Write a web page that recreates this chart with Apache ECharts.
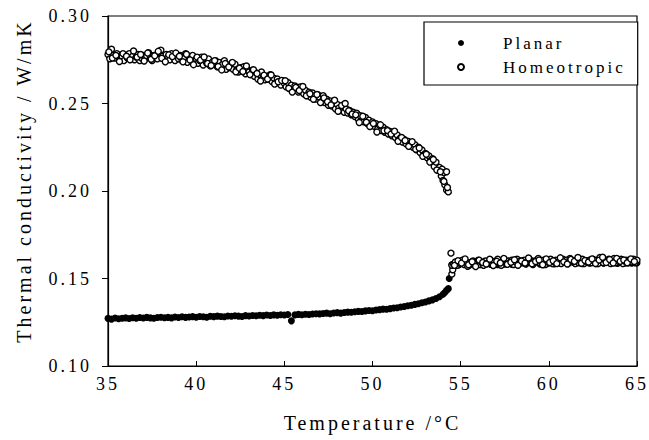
<!DOCTYPE html>
<html>
<head>
<meta charset="utf-8">
<script src="https://cdn.jsdelivr.net/npm/echarts@6/dist/echarts.min.js"></script>
<style>
html,body{margin:0;padding:0;background:#fff;}
#chart{width:649px;height:440px;}
#chart text{letter-spacing:3px;}
</style>
</head>
<body>
<div id="chart"></div>
<script>
// ---- Data ----
const seriesNames = ["Planar", "Homeotropic"];
const xTicks = [35, 40, 45, 50, 55, 60, 65];
const yTicks = [0.10, 0.15, 0.20, 0.25, 0.30];

// Homeotropic (open circles), first run
const homeoTemp = [
35.0,35.1,35.2,35.3,35.4,35.5,35.6,35.7,35.8,35.9,
36.0,36.1,36.2,36.3,36.4,36.5,36.6,36.7,36.8,36.9,
37.0,37.1,37.2,37.3,37.4,37.5,37.6,37.7,37.8,37.9,
38.0,38.1,38.2,38.3,38.4,38.5,38.6,38.7,38.8,38.9,
39.0,39.1,39.2,39.3,39.4,39.5,39.6,39.7,39.8,39.9,
40.0,40.1,40.2,40.3,40.4,40.5,40.6,40.7,40.8,40.9,
41.0,41.1,41.2,41.3,41.4,41.5,41.6,41.7,41.8,41.9,
42.0,42.1,42.2,42.3,42.4,42.5,42.6,42.7,42.8,42.9,
43.0,43.1,43.2,43.3,43.4,43.5,43.6,43.7,43.8,43.9,
44.0,44.1,44.2,44.3,44.4,44.5,44.6,44.7,44.8,44.9,
45.0,45.1,45.2,45.3,45.4,45.5,45.6,45.7,45.8,45.9,
46.0,46.1,46.2,46.3,46.4,46.5,46.6,46.7,46.8,46.9,
47.0,47.1,47.2,47.3,47.4,47.5,47.6,47.7,47.8,47.9,
48.0,48.1,48.2,48.3,48.4,48.5,48.6,48.7,48.8,48.9,
49.0,49.1,49.2,49.3,49.4,49.5,49.6,49.7,49.8,49.9,
50.0,50.1,50.2,50.3,50.4,50.5,50.6,50.7,50.8,50.9,
51.0,51.1,51.2,51.3,51.4,51.5,51.6,51.7,51.8,51.9,
52.0,52.1,52.2,52.3,52.4,52.5,52.6,52.7,52.8,52.9,
53.0,53.1,53.2,53.3,53.4,53.5,53.6,53.7,53.8,53.9,
54.0,54.1,54.2,54.3,
53.95,54.05,54.2,54.45,54.5,54.55,54.5,
54.6,54.7,54.8,54.9,55.0,55.1,55.2,55.3,55.4,55.5,
55.6,55.7,55.8,55.9,56.0,56.1,56.2,56.3,56.4,56.5,
56.6,56.7,56.8,56.9,57.0,57.1,57.2,57.3,57.4,57.5,
57.6,57.7,57.8,57.9,58.0,58.1,58.2,58.3,58.4,58.5,
58.6,58.7,58.8,58.9,59.0,59.1,59.2,59.3,59.4,59.5,
59.6,59.7,59.8,59.9,60.0,60.1,60.2,60.3,60.4,60.5,
60.6,60.7,60.8,60.9,61.0,61.1,61.2,61.3,61.4,61.5,
61.6,61.7,61.8,61.9,62.0,62.1,62.2,62.3,62.4,62.5,
62.6,62.7,62.8,62.9,63.0,63.1,63.2,63.3,63.4,63.5,
63.6,63.7,63.8,63.9,64.0,64.1,64.2,64.3,64.4,64.5,
64.6,64.7,64.8,64.9,65.0
];
const homeoCond = [
0.2780,0.2755,0.2810,0.2775,0.2760,0.2785,0.2765,0.2750,0.2770,0.2745,
0.2775,0.2760,0.2785,0.2755,0.2770,0.2750,0.2765,0.2780,0.2745,0.2760,
0.2775,0.2755,0.2770,0.2790,0.2760,0.2745,0.2775,0.2765,0.2755,0.2790,
0.2805,0.2770,0.2755,0.2780,0.2765,0.2750,0.2785,0.2765,0.2745,0.2770,
0.2755,0.2775,0.2745,0.2760,0.2785,0.2735,0.2760,0.2750,0.2775,0.2740,
0.2755,0.2730,0.2745,0.2765,0.2720,0.2745,0.2730,0.2755,0.2715,0.2735,
0.2725,0.2745,0.2710,0.2735,0.2705,0.2725,0.2745,0.2695,0.2720,0.2705,
0.2715,0.2695,0.2725,0.2690,0.2680,0.2705,0.2685,0.2710,0.2670,0.2695,
0.2680,0.2665,0.2690,0.2655,0.2675,0.2640,0.2665,0.2680,0.2650,0.2635,
0.2655,0.2640,0.2665,0.2625,0.2645,0.2615,0.2640,0.2625,0.2605,0.2630,
0.2615,0.2595,0.2620,0.2585,0.2605,0.2575,0.2600,0.2585,0.2565,0.2595,
0.2580,0.2555,0.2575,0.2545,0.2565,0.2535,0.2560,0.2545,0.2525,0.2550,
0.2535,0.2510,0.2545,0.2505,0.2525,0.2490,0.2515,0.2485,0.2505,0.2470,
0.2495,0.2475,0.2460,0.2485,0.2450,0.2470,0.2445,0.2460,0.2435,0.2450,
0.2425,0.2445,0.2410,0.2430,0.2405,0.2395,0.2420,0.2385,0.2405,0.2375,
0.2395,0.2370,0.2385,0.2355,0.2375,0.2345,0.2365,0.2335,0.2350,0.2325,
0.2340,0.2315,0.2330,0.2305,0.2320,0.2295,0.2305,0.2280,0.2295,0.2270,
0.2285,0.2260,0.2275,0.2250,0.2265,0.2235,0.2250,0.2220,0.2235,0.2205,
0.2215,0.2190,0.2200,0.2175,0.2185,0.2140,0.2165,0.2120,0.2135,0.2085,
0.2060,0.2035,0.2005,0.1995,
0.2125,0.2105,0.2110,0.1645,0.1525,0.1550,0.1575,
0.1580,0.1595,0.1575,0.1590,0.1585,0.1605,0.1580,0.1595,0.1570,0.1590,
0.1585,0.1600,0.1575,0.1595,0.1605,0.1580,0.1590,0.1575,0.1600,0.1585,
0.1590,0.1605,0.1580,0.1595,0.1585,0.1610,0.1590,0.1575,0.1600,0.1595,
0.1585,0.1600,0.1590,0.1605,0.1580,0.1595,0.1610,0.1585,0.1600,0.1590,
0.1605,0.1585,0.1595,0.1610,0.1590,0.1580,0.1600,0.1595,0.1615,0.1590,
0.1595,0.1605,0.1580,0.1600,0.1590,0.1610,0.1585,0.1595,0.1605,0.1590,
0.1600,0.1585,0.1610,0.1595,0.1605,0.1590,0.1615,0.1595,0.1600,0.1585,
0.1605,0.1590,0.1595,0.1610,0.1585,0.1600,0.1595,0.1605,0.1590,0.1610,
0.1595,0.1605,0.1585,0.1620,0.1600,0.1590,0.1605,0.1595,0.1610,0.1585,
0.1600,0.1615,0.1590,0.1605,0.1595,0.1610,0.1585,0.1600,0.1605,0.1590,
0.1605,0.1595,0.1610,0.1590,0.1605
];

// Homeotropic, second run (interleaved temperatures)
const homeoTemp2 = [
35.05,35.25,35.45,35.65,35.85,36.05,36.25,36.45,36.65,36.85,
37.05,37.25,37.45,37.65,37.85,38.05,38.25,38.45,38.65,38.85,
39.05,39.25,39.45,39.65,39.85,40.05,40.25,40.45,40.65,40.85,
41.05,41.25,41.45,41.65,41.85,42.05,42.25,42.45,42.65,42.85,
43.05,43.25,43.45,43.65,43.85,44.05,44.25,44.45,44.65,44.85,
45.05,45.25,45.45,45.65,45.85,46.05,46.25,46.45,46.65,46.85,
47.05,47.25,47.45,47.65,47.85,48.05,48.25,48.45,48.65,48.85,
49.05,49.25,49.45,49.65,49.85,50.05,50.25,50.45,50.65,50.85,
51.05,51.25,51.45,51.65,51.85,52.05,52.25,52.45,52.65,52.85,
53.05,53.25,53.45,53.65,53.85,54.05,54.25,
54.65,54.85,55.05,55.25,55.45,55.65,55.85,56.05,56.25,56.45,
56.65,56.85,57.05,57.25,57.45,57.65,57.85,58.05,58.25,58.45,
58.65,58.85,59.05,59.25,59.45,59.65,59.85,60.05,60.25,60.45,
60.65,60.85,61.05,61.25,61.45,61.65,61.85,62.05,62.25,62.45,
62.65,62.85,63.05,63.25,63.45,63.65,63.85,64.05,64.25,64.45,
64.65,64.85
];
const homeoCond2 = [
0.2795,0.2760,0.2775,0.2740,0.2785,0.2770,0.2750,0.2800,0.2765,0.2780,
0.2743,0.2788,0.2753,0.2773,0.2798,0.2758,0.2738,0.2778,0.2768,0.2788,
0.2770,0.2738,0.2781,0.2749,0.2722,0.2765,0.2748,0.2766,0.2729,0.2717,
0.2745,0.2711,0.2692,0.2728,0.2709,0.2735,0.2681,0.2702,0.2683,0.2714,
0.2665,0.2693,0.2671,0.2629,0.2662,0.2640,0.2663,0.2611,0.2624,0.2632,
0.2630,0.2587,0.2565,0.2592,0.2574,0.2597,0.2544,0.2556,0.2524,0.2551,
0.2505,0.2532,0.2510,0.2492,0.2519,0.2456,0.2488,0.2500,0.2458,0.2440,
0.2435,0.2391,0.2427,0.2393,0.2369,0.2386,0.2337,0.2378,0.2344,0.2345,
0.2325,0.2342,0.2284,0.2306,0.2288,0.2255,0.2282,0.2239,0.2246,0.2198,
0.2210,0.2165,0.2180,0.2120,0.2110,0.2055,0.2020,
0.1575,0.1602,0.1588,0.1612,0.1579,0.1596,0.1568,0.1605,0.1591,0.1583,
0.1610,0.1574,0.1598,0.1589,0.1615,0.1581,0.1593,0.1607,0.1576,0.1600,
0.1588,0.1617,0.1584,0.1597,0.1606,0.1579,0.1612,0.1592,0.1601,0.1585,
0.1618,0.1595,0.1583,0.1609,0.1598,0.1620,0.1587,0.1603,0.1594,0.1612,
0.1586,0.1605,0.1621,0.1592,0.1608,0.1589,0.1615,0.1598,0.1606,0.1590,
0.1612,0.1597
];

// Planar (filled circles)
const planarTemp = [
35.0,35.2,35.4,35.6,35.8,36.0,36.2,36.4,36.6,36.8,
37.0,37.2,37.4,37.6,37.8,38.0,38.2,38.4,38.6,38.8,
39.0,39.2,39.4,39.6,39.8,40.0,40.2,40.4,40.6,40.8,
41.0,41.2,41.4,41.6,41.8,42.0,42.2,42.4,42.6,42.8,
43.0,43.2,43.4,43.6,43.8,44.0,44.2,44.4,44.6,44.8,
45.0,45.2,45.4,45.6,45.8,46.0,46.2,46.4,46.6,46.8,
47.0,47.2,47.4,47.6,47.8,48.0,48.2,48.4,48.6,48.8,
49.0,49.2,49.4,49.6,49.8,50.0,50.2,50.4,50.6,50.8,
51.0,51.2,51.4,51.6,51.8,52.0,52.2,52.4,52.6,52.8,
53.0,53.2,53.4,53.6,53.8,54.0,54.1,54.2,54.3,54.35,
54.5,54.7,54.9,55.1,55.3,55.5,55.7,55.9,56.1,56.3,
56.5,56.7,56.9,57.1,57.3,57.5,57.7,57.9,58.1,58.3,
58.5,58.7,58.9,59.1,59.3,59.5,59.7,59.9,60.1,60.3,
60.5,60.7,60.9,61.1,61.3,61.5,61.7,61.9,62.1,62.3,
62.5,62.7,62.9,63.1,63.3,63.5,63.7,63.9,64.1,64.3,
64.5,64.7,64.9,65.0
];
const planarCond = [
0.1272,0.1268,0.1274,0.1270,0.1273,0.1275,0.1271,0.1276,0.1273,0.1277,
0.1274,0.1278,0.1275,0.1273,0.1277,0.1279,0.1276,0.1278,0.1275,0.1280,
0.1277,0.1281,0.1278,0.1280,0.1282,0.1279,0.1283,0.1281,0.1279,0.1284,
0.1282,0.1285,0.1283,0.1281,0.1286,0.1284,0.1287,0.1285,0.1283,0.1288,
0.1286,0.1289,0.1287,0.1290,0.1288,0.1291,0.1289,0.1292,0.1290,0.1293,
0.1291,0.1294,0.1258,0.1292,0.1295,0.1293,0.1296,0.1294,0.1297,0.1299,
0.1298,0.1300,0.1302,0.1299,0.1303,0.1305,0.1302,0.1306,0.1308,0.1307,
0.1310,0.1312,0.1311,0.1315,0.1317,0.1316,0.1320,0.1322,0.1325,0.1324,
0.1328,0.1331,0.1333,0.1337,0.1340,0.1344,0.1347,0.1352,0.1356,0.1361,
0.1366,0.1372,0.1378,0.1386,0.1396,0.1410,0.1420,0.1432,0.1442,0.1500,
0.1580,0.1592,0.1578,0.1594,0.1582,0.1576,0.1593,0.1580,0.1596,0.1578,
0.1594,0.1580,0.1597,0.1579,0.1595,0.1582,0.1598,0.1580,0.1596,0.1583,
0.1598,0.1581,0.1597,0.1584,0.1599,0.1582,0.1597,0.1585,0.1600,0.1583,
0.1598,0.1586,0.1600,0.1584,0.1601,0.1586,0.1598,0.1585,0.1601,0.1587,
0.1600,0.1585,0.1602,0.1587,0.1599,0.1588,0.1602,0.1586,0.1600,0.1588,
0.1601,0.1587,0.1602,0.1589
];

const pairs = (xs, ys) => xs.map((x, i) => [x, ys[i]]);
const FONT = '"Liberation Serif", "Times New Roman", serif';

const chart = echarts.init(document.getElementById('chart'), null, {renderer: 'svg'});
chart.setOption({
  backgroundColor: '#fff',
  animation: false,
  grid: {left: 108, right: 12, top: 16, bottom: 74, show: true, borderColor: '#000', borderWidth: 1.2},
  legend: {
    orient: 'vertical', left: 424, top: 22,
    data: seriesNames,
    icon: 'circle', itemWidth: 6, itemHeight: 6, itemGap: 4,
    padding: [11, 45, 8, 33],
    borderColor: '#000', borderWidth: 1.2, backgroundColor: '#fff',
    textStyle: {fontFamily: FONT, fontSize: 17, color: '#000', lineHeight: 20, padding: [0, 0, 0, 34]}
  },
  xAxis: {
    type: 'value', min: xTicks[0], max: xTicks[xTicks.length - 1], interval: 5,
    name: 'Temperature /°C', nameLocation: 'middle', nameGap: 47,
    nameTextStyle: {fontFamily: FONT, fontSize: 20, color: '#000'},
    axisLine: {lineStyle: {color: '#000', width: 1.2}},
    axisTick: {inside: true, length: 5, lineStyle: {color: '#000'}},
    axisLabel: {fontFamily: FONT, fontSize: 18, color: '#000', margin: 9},
    splitLine: {show: false}
  },
  yAxis: {
    type: 'value', min: yTicks[0], max: yTicks[yTicks.length - 1], interval: 0.05,
    name: 'Thermal conductivity / W/mK', nameLocation: 'middle', nameGap: 74,
    nameTextStyle: {fontFamily: FONT, fontSize: 20, color: '#000', padding: [0, 0, 0, 20]},
    axisLine: {show: true, lineStyle: {color: '#000', width: 1.2}},
    axisTick: {show: true, inside: false, length: 6, lineStyle: {color: '#000'}},
    axisLabel: {fontFamily: FONT, fontSize: 18, color: '#000', margin: 16, formatter: v => v.toFixed(2)},
    splitLine: {show: false}
  },
  series: [
    {
      name: seriesNames[0], type: 'scatter', symbol: 'circle', symbolSize: 7,
      itemStyle: {color: '#000', opacity: 1},
      data: pairs(planarTemp, planarCond), z: 2
    },
    {
      name: seriesNames[1], type: 'scatter', symbol: 'circle', symbolSize: 6,
      itemStyle: {color: '#fff', borderColor: '#000', borderWidth: 1.4, opacity: 1},
      data: pairs(homeoTemp, homeoCond).concat(pairs(homeoTemp2, homeoCond2)), z: 3
    }
  ]
});
</script>
</body>
</html>
